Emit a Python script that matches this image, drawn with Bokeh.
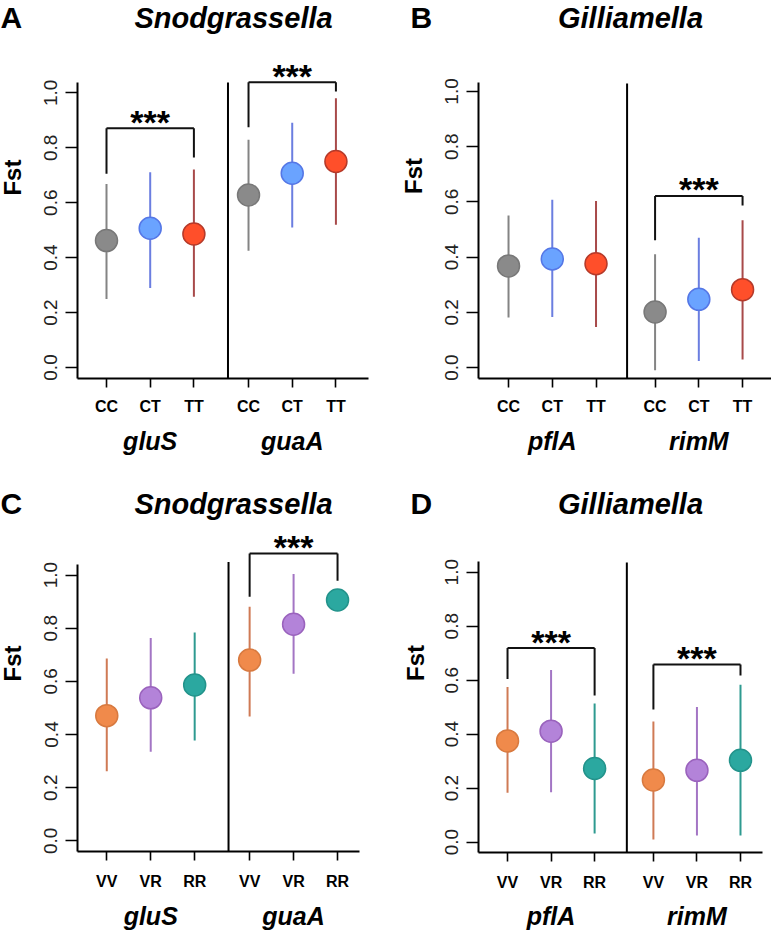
import math
from bokeh.plotting import figure
from bokeh.models import FixedTicker, LinearAxis, Range1d, PrintfTickFormatter
from bokeh.layouts import column, row
from bokeh.core.properties import value
from bokeh.embed import file_html
from bokeh.resources import INLINE

# ---------------- data ----------------
geno_ct = ["CC", "CT", "TT"]
geno_vr = ["VV", "VR", "RR"]

species_a = "Snodgrassella"
species_b = "Gilliamella"
genes_snod = ["gluS", "guaA"]
genes_gill = ["pflA", "rimM"]
y_label = "Fst"

# Panel A: Snodgrassella, CC/CT/TT (gluS then guaA)
a_mean = [0.462, 0.507, 0.486, 0.628, 0.707, 0.750]
a_lo = [0.249, 0.289, 0.258, 0.425, 0.510, 0.520]
a_hi = [0.668, 0.711, 0.721, 0.829, 0.891, 0.980]

# Panel B: Gilliamella, CC/CT/TT (pflA then rimM)
b_mean = [0.368, 0.393, 0.376, 0.201, 0.247, 0.282]
b_lo = [0.181, 0.183, 0.147, -0.010, 0.024, 0.029]
b_hi = [0.551, 0.608, 0.603, 0.410, 0.470, 0.533]

# Panel C: Snodgrassella, VV/VR/RR (gluS then guaA)
c_mean = [0.471, 0.538, 0.586, 0.680, 0.815, 0.906]
c_lo = [0.262, 0.335, 0.377, 0.468, 0.629, 0.900]
c_hi = [0.686, 0.763, 0.784, 0.881, 1.004, 0.912]

# Panel D: Gilliamella, VV/VR/RR (pflA then rimM)
d_mean = [0.375, 0.411, 0.273, 0.230, 0.266, 0.303]
d_lo = [0.183, 0.185, 0.032, 0.010, 0.025, 0.025]
d_hi = [0.575, 0.638, 0.514, 0.447, 0.501, 0.583]

# significance brackets: (left idx, right idx, left leg bottom, top, right leg bottom, stars y)
a_brackets = [(0, 2, 0.705, 0.871, 0.765, 0.893), (3, 5, 0.875, 1.039, 1.005, 1.062)]
b_brackets = [(3, 5, 0.461, 0.621, 0.587, 0.645)]
c_brackets = [(3, 5, 0.918, 1.081, 0.978, 1.104)]
d_brackets = [(0, 2, 0.604, 0.719, 0.543, 0.742), (3, 5, 0.491, 0.658, 0.617, 0.681)]

y_ticks = [0.0, 0.2, 0.4, 0.6, 0.8, 1.0]

# ---------------- styles ----------------
ct_fill = ["#8a8a8a", "#6aa3ff", "#ff4f2a"]
ct_edge = ["#787878", "#5577e6", "#b53a2a"]
ct_line = ["#848484", "#6b7ee0", "#a84a4a"]
vr_fill = ["#f08a4b", "#b383d9", "#2ba8a0"]
vr_edge = ["#d87a40", "#9a63bd", "#23938b"]
vr_line = ["#cf7a55", "#a375c4", "#2e9a90"]

FONT = "Liberation Sans"

left_pos = [1, 2, 3, 4.25, 5.25, 6.25]
right_pos = [1, 2, 3, 4.35, 5.35, 6.35]

# geometry in reference pixels, local to each panel
geo = {
    "A": dict(Wp=385, Hp=466, hh=45, wF=30, Lp=77, Bp=377.7, Tax=82, Rax=368, y0=366.7, y1=92.3, x1=106,
              ux=43.7, sep=3.78, sep_top=82, title=(233, 17), letter=(0, 17), fst=(12, 212), gstand=(10, 9)),
    "B": dict(Wp=386, Hp=466, hh=45, wF=45, Lp=93.3, Bp=378.3, Tax=81.7, Rax=386, y0=367.3, y1=91, x1=123.3,
              ux=43.7, sep=3.71, sep_top=83, title=(245, 17), letter=(25, 17), fst=(28, 210), gstand=(10, 9)),
    "C": dict(Wp=385, Hp=466, hh=60, wF=30, Lp=76.7, Bp=395, Tax=99, Rax=359.3, y0=384, y1=110, x1=106,
              ux=44, sep=3.77, sep_top=96.7, title=(233, 37), letter=(0, 37), fst=(12, 231), gstand=(12, 9)),
    "D": dict(Wp=386, Hp=466, hh=60, wF=45, Lp=93.3, Bp=393.3, Tax=95.7, Rax=376.7, y0=382.7, y1=106.7, x1=122.3,
              ux=43.5, sep=3.74, sep_top=96.7, title=(245, 37), letter=(25, 37), fst=(30, 230), gstand=(12, 8)),
}


def blank(width, height, xr, yr):
    f = figure(width=width, height=height, x_range=xr, y_range=yr, output_backend="svg",
               toolbar_location=None, x_axis_type=None, y_axis_type=None, title=None,
               min_border=0, min_border_left=0, min_border_right=0, min_border_top=0, min_border_bottom=0)
    f.xgrid.visible = False
    f.ygrid.visible = False
    f.outline_line_color = None
    f.background_fill_color = "white"
    f.border_fill_color = "white"
    return f


def panel(key, species, genes, genos, pos, mean, lo, hi, brackets, fills, edges, lines):
    g = geo[key]
    hh, wF = g["hh"], g["wF"]
    uy = g["y0"] - g["y1"]
    ux = g["ux"]
    xd = lambda px: 1 + (px - g["x1"]) / ux
    yd = lambda py: (g["y0"] - py) / uy

    # header: panel letter + species title
    hdr = blank(g["Wp"], hh, Range1d(0, g["Wp"]), Range1d(hh, 0))
    tx, ty = g["title"]
    hdr.text(x=[tx], y=[ty], text=[species], text_align="center", text_baseline="middle",
             text_font=value(FONT), text_font_style="bold italic", text_font_size="29px", text_color="black")
    lx, ly = g["letter"]
    hdr.text(x=[lx], y=[ly], text=[key], text_align="left", text_baseline="middle",
             text_font=value(FONT), text_font_style="bold", text_font_size="30px", text_color="black")

    # y axis title strip
    fst = blank(wF, g["Hp"] - hh, Range1d(0, wF), Range1d(g["Hp"], hh))
    fx, fy = g["fst"]
    fst.text(x=[fx], y=[fy], text=[y_label], angle=math.pi / 2, text_align="center", text_baseline="middle",
             text_font=value(FONT), text_font_style="bold", text_font_size="24px", text_color="black")

    # main plot
    ystart, yend = yd(g["Bp"]), yd(hh)
    xstart, xend = xd(g["Lp"]), xd(g["Wp"])
    p = figure(width=g["Wp"] - wF, height=g["Hp"] - hh, x_range=Range1d(xstart, xend),
               y_range=Range1d(ystart, yend), output_backend="svg", toolbar_location=None, title=None,
               min_border_left=round(g["Lp"] - wF), min_border_right=0, min_border_top=0,
               min_border_bottom=round(g["Hp"] - g["Bp"]))
    p.xgrid.visible = False
    p.ygrid.visible = False
    p.outline_line_color = None
    p.background_fill_color = "white"
    p.border_fill_color = "white"

    ya = p.yaxis[0]
    ya.ticker = FixedTicker(ticks=y_ticks)
    ya.formatter = PrintfTickFormatter(format="%.1f")
    ya.bounds = (ystart, yd(g["Tax"]))
    ya.major_label_orientation = "parallel"
    ya.major_tick_out = 12
    ya.major_tick_in = 0
    ya.minor_tick_line_color = None
    ya.axis_line_width = 2
    ya.major_tick_line_width = 1.6
    ya.major_label_text_font = FONT
    ya.major_label_text_font_size = "19px"
    ya.major_label_text_color = "#222222"
    ya.major_label_standoff = 8

    xa = p.xaxis[0]
    xa.ticker = FixedTicker(ticks=pos)
    xa.major_label_overrides = {float(x): lab for x, lab in zip(pos, genos + genos)}
    xa.bounds = (xstart, xd(g["Rax"]))
    xa.major_tick_out = 9
    xa.major_tick_in = 0
    xa.minor_tick_line_color = None
    xa.axis_line_width = 2
    xa.major_tick_line_width = 1.6
    xa.major_label_text_font = FONT
    xa.major_label_text_font_style = "bold"
    xa.major_label_text_font_size = "16px"
    xa.major_label_text_color = "black"
    xa.major_label_standoff = g["gstand"][0]

    centers = [sum(pos[0:3]) / 3, sum(pos[3:6]) / 3]
    ga = LinearAxis(ticker=FixedTicker(ticks=centers),
                    major_label_overrides={float(c): gname for c, gname in zip(centers, genes)})
    ga.axis_line_color = None
    ga.major_tick_line_color = None
    ga.minor_tick_line_color = None
    ga.major_tick_out = 0
    ga.major_label_text_font = FONT
    ga.major_label_text_font_style = "bold italic"
    ga.major_label_text_font_size = "25px"
    ga.major_label_text_color = "black"
    ga.major_label_standoff = g["gstand"][1]
    p.add_layout(ga, "below")

    # separator between the two genes
    p.segment(x0=[g["sep"]], y0=[ystart], x1=[g["sep"]], y1=[yd(g["sep_top"])], line_color="black", line_width=2)

    # error bars and points
    p.segment(x0=pos, y0=lo, x1=pos, y1=hi, line_color=lines + lines, line_width=2)
    p.scatter(x=pos, y=mean, size=22, fill_color=fills + fills, line_color=edges + edges, line_width=1.5)

    # significance brackets
    for (i, j, lb, top, rb, sy) in brackets:
        p.segment(x0=[pos[i], pos[i], pos[j]], y0=[lb, top, top], x1=[pos[i], pos[j], pos[j]], y1=[top, top, rb],
                  line_color="#111111", line_width=2)
        p.text(x=[(pos[i] + pos[j]) / 2], y=[sy], text=["***"], text_align="center", text_baseline="middle",
               text_font=value(FONT), text_font_style="bold", text_font_size="34px", text_color="black")

    return hdr, row(fst, p)


ha, ba = panel("A", species_a, genes_snod, geno_ct, left_pos, a_mean, a_lo, a_hi, a_brackets, ct_fill, ct_edge, ct_line)
hb, bb = panel("B", species_b, genes_gill, geno_ct, right_pos, b_mean, b_lo, b_hi, b_brackets, ct_fill, ct_edge, ct_line)
hc, bc = panel("C", species_a, genes_snod, geno_vr, left_pos, c_mean, c_lo, c_hi, c_brackets, vr_fill, vr_edge, vr_line)
hd, bd = panel("D", species_b, genes_gill, geno_vr, right_pos, d_mean, d_lo, d_hi, d_brackets, vr_fill, vr_edge, vr_line)

layout = column(row(ha, hb), row(ba, bb), row(hc, hd), row(bc, bd))
open("out.html", "w").write(file_html(layout, INLINE))
